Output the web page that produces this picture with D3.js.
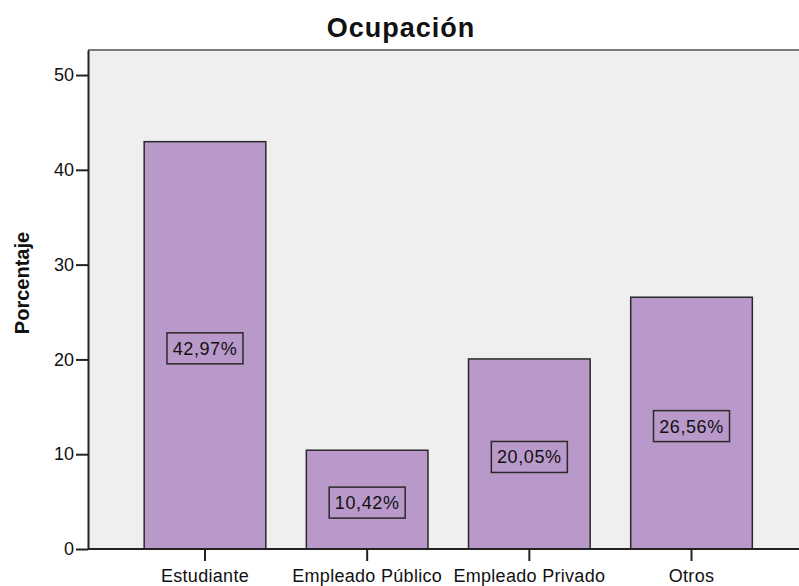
<!DOCTYPE html>
<html><head><meta charset="utf-8">
<script src="https://cdn.jsdelivr.net/npm/d3@7"></script>
<style>body{margin:0;background:#fff;} svg{display:block;font-family:"Liberation Sans",Arial,sans-serif;}</style>
</head><body>
<svg id="c" width="799" height="586"></svg>
<script>
const categories = ["Estudiante", "Empleado Público", "Empleado Privado", "Otros"];
const values = [42.97, 10.42, 20.05, 26.56];
const valueLabels = ["42,97%", "10,42%", "20,05%", "26,56%"];
const yTicks = [0, 10, 20, 30, 40, 50];
const title = "Ocupación";
const yTitle = "Porcentaje";

const svg = d3.select("#c");
const pLeft = 88, pRight = 799, pTop = 50, pBottom = 549;

const y = d3.scaleLinear().domain([0, 52.64]).range([pBottom, pTop]);
const x = d3.scaleBand().domain(categories).range([123.9, 772.6]).paddingInner(0.25).paddingOuter(0.125);

// plot background
svg.append("rect").attr("x", pLeft).attr("y", pTop).attr("width", pRight - pLeft).attr("height", pBottom - pTop).attr("fill", "#efefef");
// top frame line
svg.append("line").attr("x1", pLeft).attr("x2", pRight).attr("y1", pTop).attr("y2", pTop).attr("stroke", "#7a7a7a").attr("stroke-width", 2);

// bars
svg.selectAll("rect.bar").data(values).enter().append("rect").attr("class", "bar")
  .attr("x", (d, i) => x(categories[i]))
  .attr("y", d => y(d))
  .attr("width", x.bandwidth())
  .attr("height", d => y(0) - y(d))
  .attr("fill", "#b899c9")
  .attr("stroke", "#2a2a2a")
  .attr("stroke-width", 1.5);

// value labels
const lg = svg.selectAll("g.lab").data(values).enter().append("g").attr("class", "lab")
  .attr("transform", (d, i) => `translate(${x(categories[i]) + x.bandwidth() / 2},${(y(d) + y(0)) / 2 + 3})`);
lg.append("rect").attr("x", -38).attr("y", -15.5).attr("width", 76).attr("height", 31)
  .attr("fill", "none").attr("stroke", "#2a2a2a").attr("stroke-width", 1.5);
lg.append("text").attr("text-anchor", "middle").attr("dy", "0.36em")
  .attr("font-size", 18).attr("letter-spacing", 0.6).attr("fill", "#111")
  .text((d, i) => valueLabels[i]);

// y axis
const ya = svg.append("g").attr("transform", `translate(${pLeft},0)`)
  .call(d3.axisLeft(y).tickValues(yTicks).tickSize(12).tickSizeOuter(0).tickPadding(2).tickFormat(d3.format("d")));
ya.select(".domain").attr("stroke", "#222").attr("stroke-width", 2);
ya.selectAll(".tick line").attr("stroke", "#222").attr("stroke-width", 2);
ya.selectAll(".tick text").attr("font-size", 18).attr("fill", "#111").attr("font-family", "Liberation Sans, Arial, sans-serif");

// x axis
const xa = svg.append("g").attr("transform", `translate(0,${pBottom})`)
  .call(d3.axisBottom(x).tickSize(12).tickSizeOuter(0).tickPadding(8));
xa.select(".domain").attr("d", `M${pLeft},0H${pRight}`).attr("stroke", "#222").attr("stroke-width", 2);
xa.selectAll(".tick line").attr("stroke", "#222").attr("stroke-width", 2);
xa.selectAll(".tick text").attr("font-size", 18).attr("letter-spacing", 0.3).attr("fill", "#111").attr("font-family", "Liberation Sans, Arial, sans-serif");

// title
svg.append("text").attr("x", 401).attr("y", 37).attr("text-anchor", "middle")
  .attr("font-size", 27).attr("font-weight", "bold").attr("letter-spacing", 1).attr("fill", "#111").text(title);

// y title
svg.append("text").attr("transform", "translate(29,283) rotate(-90)").attr("text-anchor", "middle")
  .attr("font-size", 20).attr("font-weight", "bold").attr("fill", "#111").text(yTitle);
</script>
</body></html>
